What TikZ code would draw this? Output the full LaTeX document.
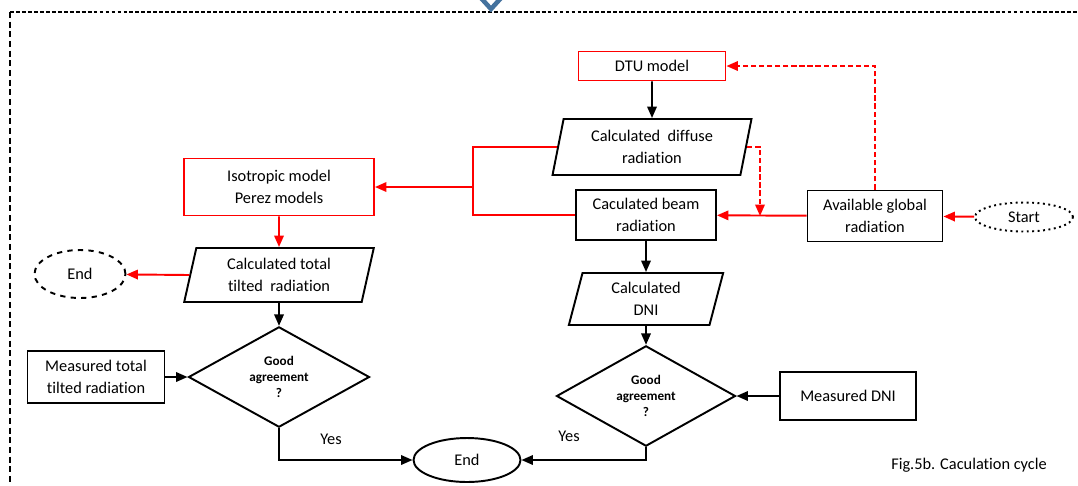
\documentclass[tikz,border=0pt]{standalone}
\usepackage{fontspec}
\setmainfont{Carlito}[Ligatures={NoCommon}]
\usetikzlibrary{shapes.geometric,arrows.meta,positioning}

\definecolor{chevblue}{RGB}{68,114,158}

\begin{document}
\begin{tikzpicture}[x=0.02cm, y=-0.02cm,
  every node/.style={font=\fontsize{9.3}{12.5}\selectfont, text=black},
  box/.style={rectangle, draw=black, line width=1.1pt, align=center, inner sep=1pt},
  redbox/.style={box, draw=red},
  data/.style={trapezium, trapezium left angle=78, trapezium right angle=102, trapezium stretches=true, draw=black, line width=1.1pt, align=center, inner sep=1pt},
  term/.style={ellipse, draw=black, line width=1.1pt, inner sep=1pt},
  decision/.style={diamond, draw=black, line width=1.1pt, align=center, inner sep=0pt, font=\fontsize{7.5}{9}\selectfont\bfseries},
  flow/.style={-{Triangle[length=2.3mm,width=1.9mm]}, line width=1.1pt},
  redflow/.style={flow, draw=red},
  reddash/.style={redflow, dash pattern=on 3pt off 1.6pt}
]
\useasboundingbox (0,0) rectangle (1078,485);

% Frame
\draw[line width=0.8pt, dash pattern=on 2.2pt off 1.2pt] (10,12) -- (1078,12);
\draw[line width=0.8pt, dash pattern=on 3.5pt off 2pt] (10,12) -- (10,485);
\draw[chevblue, line width=2.6pt, line join=miter] (481,-2) -- (491,9) -- (501,-2);

% Right branch - DTU model and beam radiation
\node (dtu) [redbox, minimum width=2.94cm, minimum height=0.58cm] at (652,66) {DTU model};
\node (diffuse) [data, minimum width=4cm, minimum height=1.12cm] at (652,147) {Calculated~ diffuse\\radiation};
\node (beam) [box, minimum width=2.8cm, minimum height=1cm] at (646,215) {Caculated beam\\radiation};
\node (avail) [box, minimum width=2.7cm, minimum height=1.02cm] at (875,216) {Available global\\radiation};
\node (start) [term, dotted, minimum width=1.96cm, minimum height=0.58cm] at (1024,217) {Start};
\node (dni) [data, minimum width=3.1cm, minimum height=1.04cm] at (646,299) {Calculated\\DNI};
\node (agree2) [decision, minimum width=3.58cm, minimum height=1.66cm] at (646,396) {Good\\agreement\\?};
\node (measdni) [box, minimum width=2.72cm, minimum height=0.96cm] at (848,396) {Measured DNI};

% Left branch - tilted radiation
\node (iso) [redbox, minimum width=3.8cm, minimum height=1.14cm] at (279,187) {Isotropic model\\Perez models};
\node (tilted) [data, minimum width=3.82cm, minimum height=1.08cm] at (279,275) {Calculated total\\tilted~ radiation};
\node (endleft) [term, dashed, minimum width=1.82cm, minimum height=0.96cm] at (80,274) {End};
\node (agree1) [decision, minimum width=3.62cm, minimum height=1.66cm] at (279,377) {Good\\agreement\\?};
\node (meastilt) [box, minimum width=2.74cm, minimum height=1.04cm] at (96,377) {Measured total\\tilted radiation};

% Bottom
\node (endbot) [term, minimum width=2.14cm, minimum height=0.88cm] at (467,460) {End};
\node (yes1) at (331,439) {Yes};
\node (yes2) at (569,436) {Yes};
\node (caption) at (969,465) {Fig.5b. Caculation cycle};

\coordinate (split) at (473,187);
\coordinate (join) at (760,216);

% Connectors
\draw[flow] (dtu) -- (diffuse);
\draw[flow] (beam) -- (dni);
\draw[flow] (dni) -- (agree2);
\draw[flow] (measdni) -- (agree2);
\draw[redflow] (start) -- (avail);
\draw[redflow] (avail) -- (beam);
\draw[reddash] (diffuse.east) -| (join);
\draw[reddash] (avail.north) |- (dtu.east);
\draw[red, line width=1.1pt] (diffuse.west) -| (split) |- (beam.west);
\draw[redflow] (split) -- (iso.east);
\draw[redflow] (iso) -- (tilted);
\draw[redflow] (tilted.west) -- (endleft);
\draw[flow] (tilted) -- (agree1);
\draw[flow] (meastilt) -- (agree1);
\draw[flow] (agree1.south) |- (endbot.west);
\draw[flow] (agree2.south) |- (endbot.east);

\end{tikzpicture}
\end{document}
